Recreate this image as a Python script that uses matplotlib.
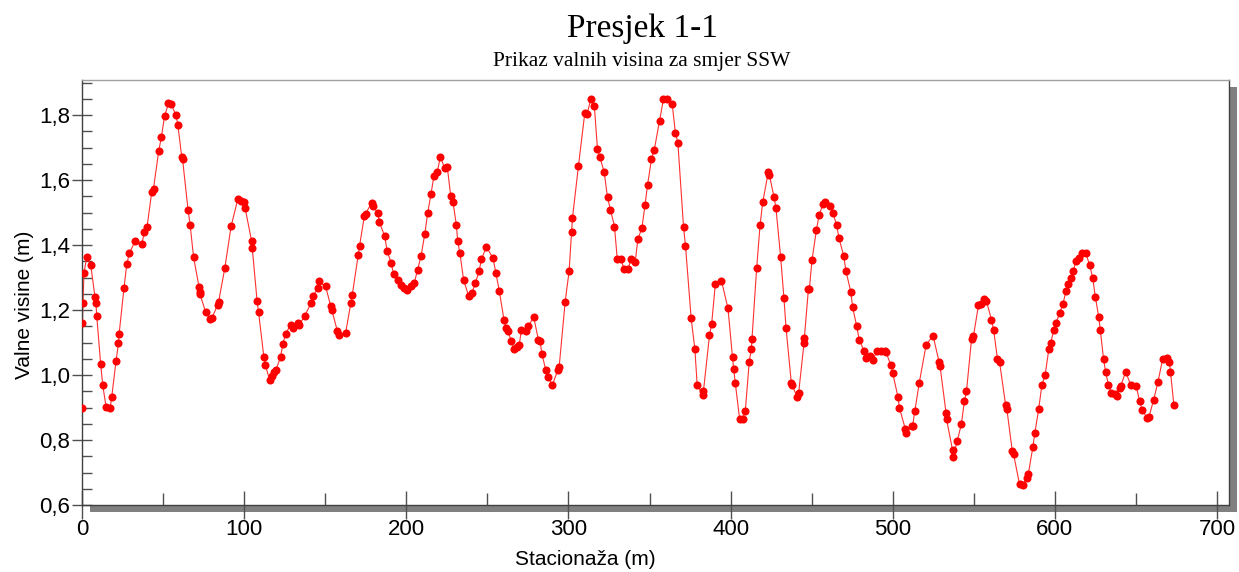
import matplotlib
matplotlib.use("Agg")
import matplotlib.pyplot as plt
from matplotlib.patches import Rectangle
from matplotlib.ticker import MultipleLocator, FuncFormatter

# stacionaza (m) and valne visine (m)
stacionaza = [
    0.0, 0.3, 0.6, 1.2, 2.9, 5.4, 8.0, 8.6, 9.1, 11.5, 12.8, 14.8, 17.3, 18.3,
    21.0, 22.5, 22.9, 25.9, 27.6, 29.2, 32.7, 36.9, 38.5, 40.1, 43.0, 44.1,
    47.3, 49.0, 50.9, 53.3, 54.9, 58.0, 59.1, 61.5, 62.0, 65.4, 66.7, 68.8,
    72.2, 72.7, 72.8, 76.2, 78.8, 80.3, 83.6, 84.2, 88.1, 92.0, 96.1, 97.8,
    100.2, 100.6, 104.6, 105.0, 108.0, 108.9, 112.2, 113.0, 115.7, 117.3,
    118.3, 119.8, 122.5, 123.9, 125.6, 128.6, 130.1, 133.1, 133.9, 137.3,
    141.2, 142.2, 145.7, 145.9, 150.2, 153.5, 154.1, 157.4, 158.5, 162.6,
    165.9, 166.7, 170.4, 171.2, 174.1, 174.9, 178.6, 179.4, 182.5, 183.3,
    186.7, 188.1, 190.6, 192.2, 194.9, 196.5, 198.4, 200.6, 202.7, 204.9,
    207.0, 209.1, 211.4, 213.2, 215.2, 217.1, 219.1, 221.0, 223.7, 225.3,
    227.4, 228.8, 230.9, 231.7, 233.0, 235.4, 238.5, 240.4, 242.6, 244.9,
    246.3, 249.4, 253.5, 255.2, 257.4, 260.3, 261.4, 262.6, 264.8, 266.3,
    268.2, 269.6, 271.0, 273.7, 275.1, 278.6, 281.5, 282.5, 283.6, 286.0,
    287.5, 290.1, 293.5, 294.3, 298.0, 300.4, 301.9, 302.5, 306.2, 310.1,
    311.4, 313.8, 316.0, 317.9, 319.4, 322.0, 324.1, 325.9, 328.4, 330.1,
    332.3, 334.4, 336.9, 338.5, 341.2, 342.8, 345.3, 347.2, 348.8, 351.2,
    352.9, 356.2, 358.6, 360.5, 364.0, 366.0, 367.5, 371.0, 372.2, 375.7,
    378.0, 379.4, 383.0, 383.3, 387.0, 388.3, 390.6, 394.4, 398.4, 401.2,
    401.9, 402.9, 405.6, 407.4, 409.1, 411.5, 412.8, 413.2, 416.1, 418.2,
    419.8, 423.3, 423.9, 426.8, 428.0, 430.9, 432.9, 434.2, 437.5, 437.9,
    441.0, 442.0, 445.3, 445.5, 448.0, 448.6, 450.2, 452.9, 454.6, 457.0,
    458.5, 461.5, 463.0, 465.4, 466.9, 469.8, 471.2, 474.1, 475.3, 477.8,
    479.3, 482.3, 483.6, 486.2, 487.7, 490.4, 492.8, 495.3, 495.9, 498.8,
    500.0, 503.3, 504.1, 507.7, 508.0, 511.7, 512.3, 513.6, 516.3, 520.6,
    524.9, 528.6, 529.2, 532.9, 533.2, 536.9, 537.2, 539.8, 542.4, 544.2,
    545.5, 548.6, 549.8, 552.9, 554.7, 556.6, 557.8, 560.9, 562.2, 564.6,
    565.9, 569.6, 570.4, 573.7, 574.5, 578.2, 580.2, 582.7, 583.6, 586.4,
    587.7, 590.0, 592.0, 594.0, 596.3, 597.5, 599.4, 600.6, 603.0, 605.0,
    607.0, 608.0, 610.0, 611.3, 613.0, 614.7, 616.6, 619.0, 621.4, 623.3,
    625.0, 627.0, 628.0, 630.0, 631.3, 633.0, 634.8, 636.9, 638.5, 639.9,
    640.5, 643.7, 646.7, 650.2, 652.3, 653.9, 657.0, 658.0, 660.9, 663.6,
    666.5, 669.0, 670.7, 671.3, 673.4,
]
visina = [
    0.898, 1.161, 1.222, 1.313, 1.363, 1.338, 1.240, 1.222, 1.181, 1.034,
    0.969, 0.903, 0.898, 0.931, 1.044, 1.098, 1.127, 1.268, 1.341, 1.375,
    1.411, 1.404, 1.440, 1.455, 1.563, 1.574, 1.689, 1.734, 1.796, 1.836,
    1.834, 1.799, 1.771, 1.671, 1.665, 1.509, 1.462, 1.363, 1.270, 1.257,
    1.248, 1.195, 1.172, 1.177, 1.216, 1.224, 1.330, 1.459, 1.541, 1.536,
    1.533, 1.514, 1.412, 1.391, 1.227, 1.193, 1.054, 1.032, 0.985, 0.998,
    1.008, 1.017, 1.057, 1.096, 1.127, 1.154, 1.145, 1.161, 1.154, 1.181,
    1.221, 1.243, 1.267, 1.288, 1.273, 1.211, 1.201, 1.137, 1.124, 1.130,
    1.223, 1.247, 1.370, 1.398, 1.488, 1.497, 1.529, 1.520, 1.498, 1.471,
    1.428, 1.383, 1.346, 1.311, 1.293, 1.276, 1.267, 1.262, 1.273, 1.283,
    1.324, 1.366, 1.434, 1.498, 1.556, 1.613, 1.625, 1.671, 1.637, 1.640,
    1.551, 1.533, 1.461, 1.412, 1.377, 1.291, 1.243, 1.252, 1.283, 1.319,
    1.356, 1.394, 1.360, 1.315, 1.258, 1.168, 1.145, 1.134, 1.106, 1.080,
    1.085, 1.091, 1.139, 1.137, 1.150, 1.178, 1.108, 1.104, 1.066, 1.016,
    0.993, 0.970, 1.016, 1.026, 1.226, 1.319, 1.440, 1.484, 1.644, 1.807,
    1.802, 1.848, 1.828, 1.696, 1.670, 1.626, 1.547, 1.509, 1.457, 1.358,
    1.358, 1.325, 1.325, 1.358, 1.348, 1.418, 1.452, 1.522, 1.585, 1.664,
    1.692, 1.782, 1.849, 1.851, 1.834, 1.744, 1.715, 1.455, 1.398, 1.174,
    1.079, 0.969, 0.939, 0.952, 1.122, 1.156, 1.279, 1.290, 1.205, 1.054,
    1.020, 0.976, 0.864, 0.864, 0.890, 1.041, 1.081, 1.111, 1.330, 1.462,
    1.531, 1.625, 1.617, 1.547, 1.513, 1.362, 1.238, 1.145, 0.974, 0.970,
    0.933, 0.946, 1.098, 1.114, 1.264, 1.265, 1.353, 1.445, 1.492, 1.526,
    1.533, 1.521, 1.500, 1.462, 1.421, 1.366, 1.319, 1.257, 1.208, 1.150,
    1.109, 1.075, 1.051, 1.058, 1.047, 1.073, 1.073, 1.075, 1.070, 1.031,
    1.006, 0.931, 0.900, 0.835, 0.823, 0.842, 0.844, 0.888, 0.974, 1.093,
    1.121, 1.039, 1.027, 0.883, 0.864, 0.769, 0.748, 0.797, 0.850, 0.920,
    0.950, 1.110, 1.120, 1.215, 1.220, 1.235, 1.228, 1.170, 1.140, 1.050,
    1.040, 0.909, 0.895, 0.767, 0.757, 0.664, 0.662, 0.684, 0.695, 0.777,
    0.823, 0.895, 0.969, 1.000, 1.080, 1.100, 1.140, 1.160, 1.190, 1.220,
    1.260, 1.280, 1.300, 1.320, 1.350, 1.360, 1.375, 1.375, 1.340, 1.300,
    1.240, 1.180, 1.140, 1.050, 1.010, 0.970, 0.946, 0.941, 0.936, 0.960,
    0.965, 1.010, 0.970, 0.965, 0.919, 0.892, 0.867, 0.871, 0.923, 0.979,
    1.050, 1.053, 1.040, 1.010, 0.908,
]

W, H = 1239, 572
fig = plt.figure(figsize=(W / 100, H / 100), dpi=100)

# axes box in pixels: left 82, right 1229, top 80, bottom 505
l, r, t, b = 82, 1229, 80, 505
ax = fig.add_axes([l / W, 1 - b / H, (r - l) / W, (b - t) / H], zorder=2)

# gray drop shadow behind the plot box
shadow = Rectangle(((l + 8) / W, 1 - (b + 7) / H), (r - l) / W, (b - t) / H,
                   transform=fig.transFigure, facecolor="#808080",
                   edgecolor="none", zorder=1)
fig.patches.append(shadow)

ax.plot(stacionaza, visina, color="#ff3030", linewidth=0.8, zorder=2)
ax.plot(stacionaza, visina, linestyle="none", marker="o", markersize=5.8,
        color="#ff0000", markeredgewidth=0, zorder=3)

ax.set_xlim(0, 707.4)
ax.set_ylim(0.6, 1.908)

comma = FuncFormatter(lambda v, p: ("%.1f" % v).replace(".", ","))
ax.yaxis.set_major_locator(MultipleLocator(0.2))
ax.yaxis.set_minor_locator(MultipleLocator(0.05))
ax.yaxis.set_major_formatter(comma)
ax.xaxis.set_major_locator(MultipleLocator(100))
ax.xaxis.set_minor_locator(MultipleLocator(50))
ax.xaxis.set_major_formatter(FuncFormatter(lambda v, p: "%d" % v))

for lab in ax.get_xticklabels() + ax.get_yticklabels():
    lab.set_fontfamily("Liberation Sans")
    lab.set_fontsize(16)

ax.tick_params(axis="y", which="major", direction="inout", length=15,
               width=1, color="#505050", pad=1, labelsize=16)
ax.tick_params(axis="y", which="minor", direction="in", length=7,
               width=1, color="#505050")
ax.tick_params(axis="x", which="major", direction="inout", length=20,
               width=1, color="#505050", pad=0, labelsize=16)
ax.tick_params(axis="x", which="minor", direction="in", length=9,
               width=1, color="#505050")

for s in ax.spines.values():
    s.set_color("#404040")
    s.set_linewidth(1)
ax.spines["top"].set_color("#a0a0a0")

ax.set_xlabel("Stacionaža (m)", fontfamily="Liberation Sans", fontsize=15)
ax.xaxis.set_label_coords(0.439, -0.105)
ax.set_ylabel("Valne visine (m)", fontfamily="Liberation Sans", fontsize=15)
ax.yaxis.set_label_coords(-0.042, 0.47)

fig.text(642 / W, 1 - 37 / H, "Presjek 1-1", ha="center", va="baseline",
         fontfamily="Liberation Serif", fontsize=24)
fig.text(642 / W, 1 - 66 / H, "Prikaz valnih visina za smjer SSW",
         ha="center", va="baseline", fontfamily="Liberation Serif",
         fontsize=15.5)

fig.savefig("out.png", dpi=100)
